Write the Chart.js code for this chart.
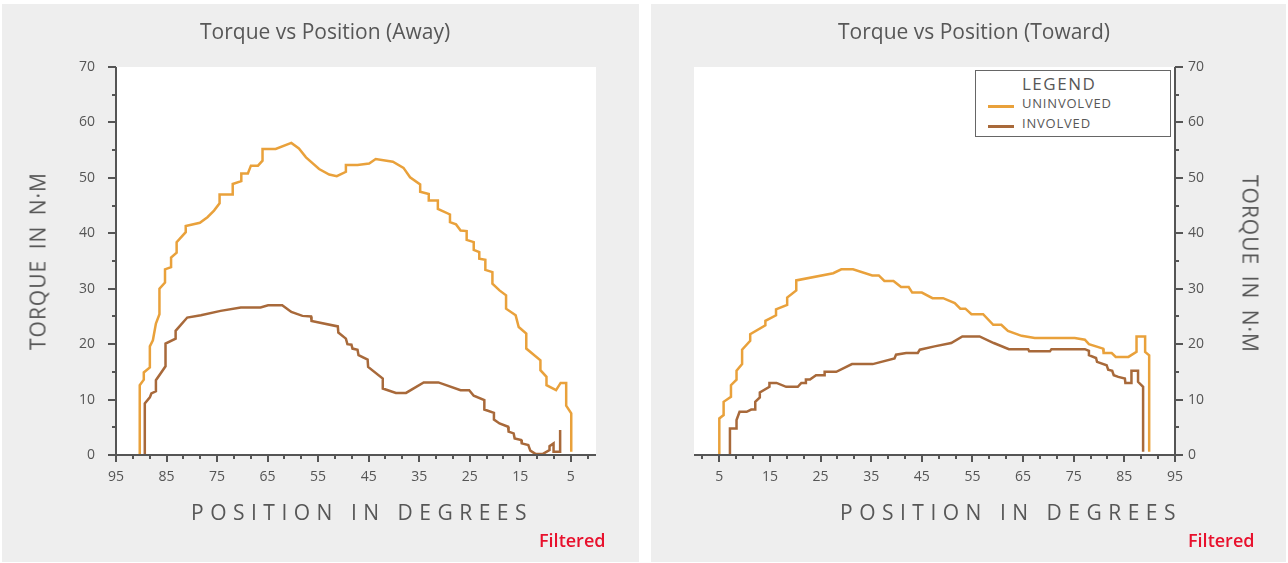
<!DOCTYPE html>
<html>
<head>
<meta charset="utf-8">
<title>Torque vs Position</title>
<script src="https://cdn.jsdelivr.net/npm/chart.js@4.4.1/dist/chart.umd.min.js"></script>
<style>
    body { margin: 0; background: #fff; font-family: 'Open Sans', sans-serif; color: #575757; }
    .panel { position: absolute; top: 4px; height: 558px; background: #eeeeee; }
    #awayPanel { left: 2px; width: 637px; }
    #towardPanel { left: 651px; width: 635px; }
    .panel canvas { position: absolute; left: 0; top: 0; }
    .txt { position: absolute; white-space: nowrap; line-height: 1; }
    .title { font-size: 21px; top: 21px; }
    .x-title { font-size: 21px; letter-spacing: 6.5px; top: 502px; }
    .y-title { font-size: 21px; letter-spacing: 1px; word-spacing: 4px; }
    .y-left { left: 38px; top: 261px; transform: translate(-50%, -50%) rotate(-90deg); }
    .y-right { left: 1250px; top: 264px; transform: translate(-50%, -50%) rotate(90deg); }
    .filtered { font-size: 18px; font-weight: 600; color: #e8112d; top: 531px; }
    #legend { position: absolute; left: 975px; top: 70px; width: 196px; height: 67px; box-sizing: border-box;
              border: 1px solid #666; background: #fff; }
    #legend .head { position: absolute; left: 46px; top: 4px; font-size: 17px; letter-spacing: 1.5px; line-height: 1; }
    #legend .item { position: absolute; left: 46px; font-size: 13px; letter-spacing: 0.8px; line-height: 1; }
    #legend .swatch { position: absolute; left: 12px; width: 26px; height: 3px; }
</style>
</head>
<body>
<div class="panel" id="awayPanel"><canvas id="awayChart" width="637" height="558"></canvas></div>
<div class="panel" id="towardPanel"><canvas id="towardChart" width="635" height="558"></canvas></div>

<div class="txt title" style="left:200px">Torque vs Position (Away)</div>
<div class="txt title" style="left:838px">Torque vs Position (Toward)</div>
<div class="txt x-title" style="left:191px">POSITION IN DEGREES</div>
<div class="txt x-title" style="left:840px">POSITION IN DEGREES</div>
<div class="txt y-title y-left">TORQUE IN N·M</div>
<div class="txt y-title y-right">TORQUE IN N·M</div>
<div class="txt filtered" style="left:539px">Filtered</div>
<div class="txt filtered" style="left:1188px">Filtered</div>
<div id="legend"><div class="head">LEGEND</div></div>

<script>
// Axis ticks
const POSITION_TICKS = [95, 85, 75, 65, 55, 45, 35, 25, 15, 5];
const TORQUE_TICKS = [0, 10, 20, 30, 40, 50, 60, 70];

const SERIES_NAMES = ['UNINVOLVED', 'INVOLVED'];
const SERIES_COLORS = ['#e9a13b', '#a8693a'];
const AXIS_COLOR = '#555555';

// Away - uninvolved
const awayUninvolvedPos = [90.3, 90.3, 89.5, 89.5, 88.3, 88.3, 87.7, 87.1, 86.4, 86.4, 85.3, 85.3, 84.1, 84.1, 83.0, 83.0,
    81.2, 81.2, 78.4, 76.9, 75.6, 74.5, 74.5, 71.9, 71.9, 70.2, 70.2, 68.9, 68.3, 66.9, 66.0, 66.0, 63.4, 60.3, 58.8,
    57.4, 54.8, 52.8, 51.3, 49.5, 49.5, 47.2, 44.9, 43.6, 40.2, 38.1, 36.8, 34.8, 34.8, 33.1, 33.1, 31.3, 31.3, 28.9,
    28.9, 27.7, 26.8, 25.6, 25.6, 24.2, 24.2, 23.1, 23.1, 21.9, 21.9, 20.5, 20.5, 19.1, 17.8, 17.8, 15.9, 15.3, 13.8,
    13.8, 11.0, 11.0, 9.8, 9.8, 7.9, 7.0, 5.9, 5.9, 4.9, 4.9];
const awayUninvolvedTorque = [0, 12.6, 13.6, 14.9, 15.8, 19.6, 20.7, 23.7, 25.4, 30.0, 31.1, 33.5, 33.9, 35.6, 36.5, 38.4,
    40.2, 41.3, 41.9, 42.9, 44.1, 45.4, 47.0, 47.0, 48.9, 49.4, 50.8, 50.8, 52.2, 52.2, 53.1, 55.2, 55.2, 56.3, 55.3,
    53.7, 51.6, 50.6, 50.3, 51.1, 52.3, 52.3, 52.6, 53.4, 52.9, 51.8, 50.1, 48.8, 47.5, 47.1, 45.9, 45.9, 44.4, 43.4,
    42.0, 41.6, 40.5, 40.4, 38.8, 38.4, 37.0, 36.6, 35.4, 35.2, 33.4, 33.0, 30.9, 29.7, 28.8, 26.4, 25.2, 23.1, 21.9,
    19.2, 17.1, 15.3, 14.1, 12.6, 11.7, 13.0, 13.0, 8.9, 7.5, 0.6];

// Away - involved
const awayInvolvedPos = [89.3, 89.3, 88.3, 88.0, 87.1, 87.1, 85.2, 85.2, 83.2, 83.2, 80.9, 78.2, 74.3, 70.3, 66.4, 64.9,
    62.1, 60.3, 58.1, 56.4, 56.3, 51.1, 51.0, 49.5, 49.2, 48.4, 48.2, 47.2, 47.0, 45.2, 45.1, 42.2, 42.2, 39.6, 37.6,
    34.1, 31.2, 26.8, 25.1, 24.2, 22.1, 22.1, 20.2, 20.2, 19.1, 17.4, 17.3, 16.3, 16.1, 14.8, 14.7, 13.4, 13.0, 12.0,
    10.5, 9.2, 9.2, 8.4, 8.4, 7.1, 7.1];
const awayInvolvedTorque = [0, 9.3, 10.4, 11.1, 11.5, 13.5, 16.0, 20.1, 21.0, 22.4, 24.8, 25.2, 26.0, 26.6, 26.6, 27.0,
    27.0, 25.8, 25.1, 25.0, 24.2, 23.2, 22.1, 21.0, 20.0, 19.9, 19.2, 19.0, 18.0, 17.2, 15.9, 13.8, 12.0, 11.2, 11.2,
    13.1, 13.1, 11.7, 11.7, 10.7, 9.9, 8.2, 7.6, 6.4, 5.7, 5.1, 4.2, 3.9, 3.0, 2.7, 2.1, 1.8, 0.8, 0.2,
    0.2, 0.9, 1.6, 2.1, 0.6, 0.6, 4.5];

// Toward - uninvolved
const towardUninvolvedPos = [5.0, 5.0, 5.85, 5.85, 7.3, 7.3, 8.4, 8.4, 9.5, 9.5, 11.1, 11.1, 14.1, 14.1, 16.2, 16.2, 18.4,
    18.4, 20.2, 20.2, 27.5, 29.1, 31.4, 35.2, 36.5, 37.6, 39.4, 40.9, 42.4, 43.1, 45.0, 47.1, 49.2, 51.5, 52.6, 53.6,
    54.8, 57.1, 59.1, 60.7, 62.0, 64.7, 67.3, 75.2, 77.2, 78.0, 80.8, 80.9, 82.5, 83.3, 85.8, 87.4, 87.4, 89.1, 89.1,
    89.9, 89.9];
const towardUninvolvedTorque = [0, 6.6, 7.2, 9.6, 10.5, 12.6, 13.6, 15.2, 16.4, 19.0, 20.6, 21.8, 23.4, 24.2, 25.2, 26.3,
    27.1, 28.4, 29.7, 31.5, 32.8, 33.5, 33.5, 32.4, 32.4, 31.4, 31.4, 30.3, 30.3, 29.3, 29.3, 28.3, 28.3, 27.4, 26.4,
    26.4, 25.4, 25.4, 23.5, 23.5, 22.4, 21.5, 21.1, 21.1, 20.8, 20.0, 19.2, 18.4, 18.4, 17.7, 17.7, 18.6, 21.4, 21.4,
    18.6, 18.0, 0.6];

// Toward - involved
const towardInvolvedPos = [7.1, 7.1, 8.4, 8.4, 9.0, 10.4, 11.3, 12.1, 12.1, 13.0, 13.0, 14.9, 14.9, 16.3, 18.2, 20.5, 21.2,
    22.1, 22.1, 22.9, 24.1, 25.8, 25.8, 28.1, 31.2, 35.3, 39.6, 39.9, 41.9, 44.2, 44.6, 47.5, 50.8, 53.0, 56.4, 59.2,
    62.2, 66.0, 66.2, 70.3, 70.6, 77.2, 78.0, 78.0, 79.4, 79.6, 81.5, 81.8, 82.6, 82.9, 83.8, 85.1, 85.2, 86.4, 86.4,
    87.7, 87.7, 88.7, 88.7];
const towardInvolvedTorque = [0, 4.8, 4.8, 6.3, 7.8, 7.8, 8.2, 8.2, 9.6, 10.4, 11.3, 12.3, 13.0, 13.0, 12.3, 12.3, 13.0,
    13.0, 13.6, 13.6, 14.4, 14.4, 15.0, 15.0, 16.4, 16.4, 17.4, 18.1, 18.4, 18.4, 19.0, 19.6, 20.2, 21.4, 21.4, 20.2,
    19.1, 19.1, 18.7, 18.7, 19.1, 19.1, 18.8, 18.0, 17.5, 16.8, 16.2, 15.4, 15.2, 14.4, 14.1, 13.8, 13.0, 13.0, 15.2,
    15.2, 13.2, 12.3, 0.6];

// Major ticks plus two minor ticks between each pair
const xTickValues = POSITION_TICKS.flatMap(m => [m, m - 10 / 3, m - 20 / 3]).filter(v => v >= 0 && v <= 95);
const yTickValues = TORQUE_TICKS.flatMap(t => [t, t + 5]).filter(v => v <= 70);

function isMajorX(v) {
    return POSITION_TICKS.some(m => Math.abs(m - v) < 1e-6);
}

function isMajorY(v) {
    return TORQUE_TICKS.some(t => Math.abs(t - v) < 1e-6);
}

// White plot area, then axis lines + tick marks on top
const plotFramePlugin = {
    id: 'plotFrame',
    beforeDraw(chart) {
        const { ctx, chartArea: a } = chart;
        ctx.save();
        ctx.fillStyle = '#ffffff';
        ctx.fillRect(a.left, a.top, a.right - a.left, a.bottom - a.top);
        ctx.restore();
    },
    afterDraw(chart) {
        const { ctx, chartArea: a, scales } = chart;
        const xs = scales.x, ys = scales.y;
        const onLeft = ys.options.position === 'left';
        const ax = onLeft ? a.left : a.right;
        const dir = onLeft ? -1 : 1;

        ctx.save();
        ctx.strokeStyle = AXIS_COLOR;
        ctx.lineWidth = 2;
        ctx.beginPath();
        ctx.moveTo(ax, a.top);
        ctx.lineTo(ax, a.bottom);
        ctx.moveTo(a.left, a.bottom);
        ctx.lineTo(a.right, a.bottom);

        ys.ticks.forEach(t => {
            const py = Math.round(ys.getPixelForValue(t.value));
            const len = isMajorY(t.value) ? 8 : 4;
            ctx.moveTo(ax, py);
            ctx.lineTo(ax + dir * len, py);
        });
        xs.ticks.forEach(t => {
            const px = Math.round(xs.getPixelForValue(t.value));
            const len = isMajorX(t.value) ? 7 : 4;
            ctx.moveTo(px, a.bottom);
            ctx.lineTo(px, a.bottom + len);
        });
        ctx.stroke();
        ctx.restore();
    }
};

function buildChart(canvasId, side, reverse, posArrays, torqueArrays) {
    const ctx = document.getElementById(canvasId).getContext('2d');

    const datasets = SERIES_NAMES.map((name, i) => ({
        label: name,
        data: posArrays[i].map((p, j) => ({ x: p, y: torqueArrays[i][j] })),
        borderColor: SERIES_COLORS[i],
        backgroundColor: SERIES_COLORS[i],
        borderWidth: 2.5,
        pointRadius: 0,
        tension: 0,
        fill: false
    }));

    const tickFont = { family: 'Open Sans', size: 14 };

    return new Chart(ctx, {
        type: 'line',
        data: { datasets },
        options: {
            responsive: false,
            animation: false,
            events: [],
            layout: {
                padding: side === 'left'
                    ? { top: 63, right: 43, bottom: 0, left: 0 }
                    : { top: 63, right: 0, bottom: 0, left: 43 }
            },
            plugins: {
                legend: { display: false },
                tooltip: { enabled: false },
                title: { display: false }
            },
            scales: {
                x: {
                    type: 'linear',
                    min: 0,
                    max: 95,
                    reverse: reverse,
                    grid: { display: false, drawTicks: false },
                    border: { display: false },
                    afterBuildTicks: s => { s.ticks = xTickValues.map(v => ({ value: v })); },
                    afterFit: s => { s.height = 107; },
                    ticks: {
                        autoSkip: false,
                        maxRotation: 0,
                        padding: 14,
                        color: AXIS_COLOR,
                        font: tickFont,
                        callback: v => isMajorX(v) ? String(Math.round(v)) : ''
                    }
                },
                y: {
                    position: side,
                    min: 0,
                    max: 70,
                    grid: { display: false, drawTicks: false },
                    border: { display: false },
                    afterBuildTicks: s => { s.ticks = yTickValues.map(v => ({ value: v })); },
                    afterFit: s => { s.width = side === 'left' ? 114 : 111; },
                    ticks: {
                        autoSkip: false,
                        padding: side === 'left' ? 21 : 13,
                        color: AXIS_COLOR,
                        font: tickFont,
                        callback: v => isMajorY(v) ? String(v) : ''
                    }
                }
            }
        },
        plugins: [plotFramePlugin]
    });
}

// Legend box (top right of the Toward chart)
function buildLegend() {
    const legend = document.getElementById('legend');
    SERIES_NAMES.forEach((name, i) => {
        const sw = document.createElement('div');
        sw.className = 'swatch';
        sw.style.top = (33.5 + i * 20) + 'px';
        sw.style.background = SERIES_COLORS[i];
        legend.appendChild(sw);

        const item = document.createElement('div');
        item.className = 'item';
        item.style.top = (25.5 + i * 20) + 'px';
        item.textContent = name;
        legend.appendChild(item);
    });
}

buildChart('awayChart', 'left', true,
    [awayUninvolvedPos, awayInvolvedPos], [awayUninvolvedTorque, awayInvolvedTorque]);
buildChart('towardChart', 'right', false,
    [towardUninvolvedPos, towardInvolvedPos], [towardUninvolvedTorque, towardInvolvedTorque]);
buildLegend();
</script>
</body>
</html>
